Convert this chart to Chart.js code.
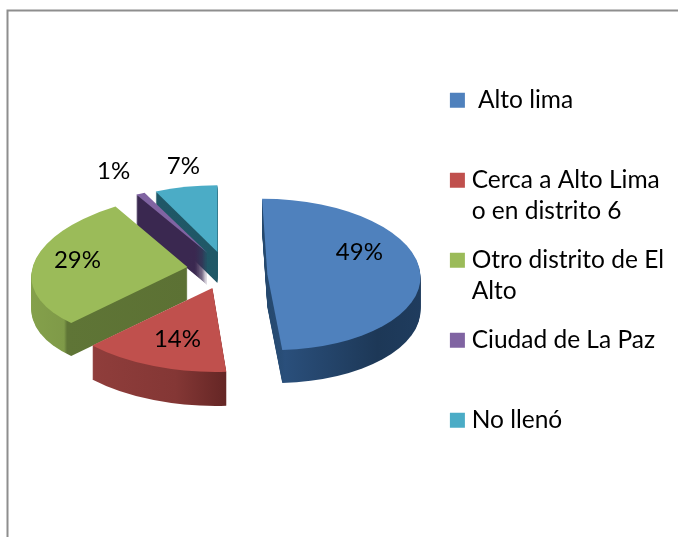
<!DOCTYPE html>
<html><head><meta charset="utf-8">
<style>html,body{margin:0;padding:0;background:#fff}#w{position:relative;width:678px;height:537px}</style>
<script src="https://cdn.jsdelivr.net/npm/chart.js@4/dist/chart.umd.min.js"></script>
</head><body><div id="w"><canvas id="c" width="678" height="537"></canvas></div>
<script>
const categories = ["Alto lima","Cerca a Alto Lima o en distrito 6","Otro distrito de El Alto","Ciudad de La Paz","No llenó"];
const legendLines = [[" Alto lima",""],["Cerca a Alto Lima","o en distrito 6"],["Otro distrito de El","Alto"],["Ciudad de La Paz",""],["No llenó",""]];
const values = [49,14,29,1,7];
const topColors = ["#4f81bd","#c0504d","#9bbb59","#8064a2","#4bacc6"];
const explode = [46.7,22.5,33.7,29,15];

// 3D look: one entry per slice
const lift = [-3.8,-1.5,-9.5,-14.4,-20.3];
const radiusPx = [153,168,156,148,145];
const tilt = [.495,.5,.47,.45,.46];
const skew = [.07,.04,-.05,0,0];
const shearY = [0,0,-.05,0,0];
const depth = [33,34,33,32,31];
const wallStops = [
  [[0,"#234669"],[.1,"#2a4f7b"],[.7,"#1d3857"],[1,"#1f3c5e"]],
  [[0,"#8f3d3b"],[.6,"#843735"],[1,"#632524"]],
  [[0,"#84a04b"],[.22,"#7f9a48"],[.24,"#5f7536"],[1,"#5c7134"]],
  [[0,"#3a2850"],[1,"#3a2850"]],
  [[0,"#1f5766"],[1,"#205867"]]
];
const wallSpan = [[264,421],[92,226],[32,188],[135,208],[157,218]];
const labelShift = [[92,-22.5],[-35,51],[-110,-7],[-94,-82],[-34,-86]];
const drawOrder = [4,3,2,1,0];

const pie3d = {
  id:'pie3d',
  beforeDraw(chart){
    const g = chart.ctx;
    g.save();
    g.fillStyle='#fff'; g.fillRect(0,0,chart.width,chart.height);
    g.strokeStyle='#8e8e8e'; g.lineWidth=2;
    g.beginPath(); g.moveTo(7.5,chart.height); g.lineTo(7.5,10.5); g.lineTo(chart.width,10.5); g.stroke();
    g.restore();
  },
  beforeDatasetDraw(chart,args){
    const g = chart.ctx, arcs = chart.getDatasetMeta(args.index).data;
    for (const i of drawOrder){
      const a = arcs[i], h = (a.startAngle+a.endAngle)/2, d = a.options.offset/4;
      const s = radiusPx[i]/a.outerRadius;
      const sx = a.x+Math.cos(h)*d, sy = a.y+lift[i]+Math.sin(h)*d*tilt[i];
      const R = a.outerRadius;
      const slice = (dy,fill) => {
        g.setTransform(s,shearY[i]*s,skew[i]*s*tilt[i],s*tilt[i],sx,sy+dy);
        g.fillStyle = fill;
        g.beginPath(); g.moveTo(0,0); g.arc(0,0,R,a.startAngle,a.endAngle); g.closePath(); g.fill();
      };
      g.save();
      const grad = g.createLinearGradient((wallSpan[i][0]-sx)/s,0,(wallSpan[i][1]-sx)/s,0);
      wallStops[i].forEach(p=>grad.addColorStop(p[0],p[1]));
      for(let t=depth[i];t>=1;t--) slice(t,grad);
      slice(0,topColors[i]);
      g.restore();
      a.$screen = [sx,sy];
    }
    return false;
  },
  afterDatasetsDraw(chart){
    const g = chart.ctx, arcs = chart.getDatasetMeta(0).data;
    g.save();
    g.fillStyle='#000'; g.font='24px Lato'; g.textAlign='center'; g.textBaseline='middle';
    arcs.forEach((a,i)=>{
      const p=a.$screen;
      g.fillText(values[i]+'%',p[0]+labelShift[i][0],p[1]+labelShift[i][1]);
    });
    g.restore();
  }
};

new Chart(document.getElementById('c'),{
  type:'pie',
  data:{labels:categories,datasets:[{data:values,backgroundColor:topColors,borderWidth:0,offset:explode.map(v=>v*4),radius:120}]},
  plugins:[pie3d],
  options:{
    responsive:false,animation:false,
    layout:{padding:{top:21,bottom:0,left:4,right:4}},
    plugins:{
      tooltip:{enabled:false},
      legend:{
        position:'right',
        labels:{
          color:'#000',
          font:{family:'Lato',size:24.5,lineHeight:31/24.5},
          boxWidth:4,boxHeight:4,padding:18,
          generateLabels(){
            return legendLines.map((t,i)=>({text:t,fillStyle:topColors[i],strokeStyle:topColors[i],lineWidth:11,index:i,hidden:false,fontColor:'#000'}));
          }
        }
      }
    }
  }
});
</script></body></html>
